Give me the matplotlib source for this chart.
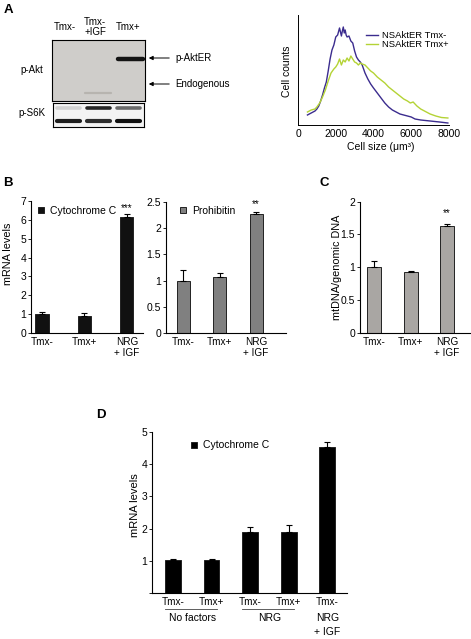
import matplotlib.pyplot as plt
from matplotlib import transforms

plt.rcParams['font.family'] = ['Liberation Sans', 'DejaVu Sans']

W, H = 471, 639

# --- A: blot, grey level of each band per lane (None = no band)
lane_names = ['Tmx-', 'Tmx-\n+IGF', 'Tmx+']
akt_er = [None, None, '#141414']
akt_endo = [None, '#b7b4af', None]
s6k_top = ['#d2d2d2', '#262626', '#6a6a6a']
s6k_bottom = ['#1e1e1e', '#2e2e2e', '#111111']

# --- A: cell size distribution
blue_x = [500, 700, 900, 1000, 1100, 1200, 1300, 1400, 1500, 1600,
          1700, 1800, 1900, 2000, 2100, 2200, 2250, 2300, 2350, 2400,
          2450, 2500, 2550, 2600, 2700, 2800, 2900, 3000, 3100, 3200,
          3300, 3400, 3550, 3700, 3850, 4000, 4200, 4400, 4600, 4800,
          5000, 5200, 5400, 5600, 5800, 6000, 6200, 6500, 7000, 7500, 7940]
blue_y = [10, 12, 14, 16, 19, 24, 30, 37, 43, 54,
          66, 75, 80, 88, 90, 97, 93, 89, 94, 98,
          92, 95, 90, 88, 89, 84, 82, 74, 68, 65,
          63, 60, 52, 46, 41, 37, 32, 27, 22, 18,
          15, 13, 11, 10, 9, 8, 6, 5, 4, 3, 2]
green_x = [500, 700, 900, 1000, 1150, 1300, 1450, 1600, 1750, 1900,
           2000, 2100, 2200, 2300, 2400, 2500, 2600, 2700, 2800, 2900,
           3000, 3100, 3200, 3300, 3400, 3550, 3700, 3850, 4000, 4200,
           4400, 4600, 4800, 5000, 5200, 5400, 5600, 5800, 5950, 6100,
           6300, 6500, 6800, 7000, 7300, 7600, 7940]
green_y = [13, 15, 16, 18, 22, 28, 35, 44, 52, 56,
           58, 61, 66, 60, 65, 63, 67, 64, 69, 66,
           63, 62, 60, 62, 61, 60, 57, 54, 52, 48,
           45, 42, 38, 35, 32, 29, 26, 24, 22, 23,
           19, 16, 13, 11, 9, 7.5, 7]

# --- B / C
cond3 = ['Tmx-', 'Tmx+', 'NRG\n+ IGF']
cytc = [1.0, 0.88, 6.15]
cytc_err = [0.13, 0.2, 0.15]
proh = [1.0, 1.06, 2.27]
proh_err = [0.21, 0.08, 0.03]
mtdna = [1.0, 0.93, 1.62]
mtdna_err = [0.1, 0.01, 0.04]

# --- D
d_ticks = ['Tmx-', 'Tmx+', 'Tmx-', 'Tmx+', 'Tmx-']
d_vals = [1.03, 1.03, 1.89, 1.89, 4.54]
d_err = [0.04, 0.03, 0.15, 0.23, 0.14]
d_groups = [('No factors', 0, 1), ('NRG', 2, 3)]

FS = 7.5
XFS = 7.2

fig = plt.figure(figsize=(W / 100, H / 100), dpi=100)


def pax(x0, y0, x1, y1):
    # axes from pixel box (top-left origin)
    return fig.add_axes([x0 / W, 1 - y1 / H, (x1 - x0) / W, (y1 - y0) / H])


# overlay in pixel coords for labels / arrows
ov = pax(0, 0, W, H)
ov.set_xlim(0, W)
ov.set_ylim(H, 0)
ov.axis('off')
ov.set_zorder(10)


def bar_panel(box, vals, errs, labels, color, xlim, ylim, yticks, width):
    ax = pax(*box)
    x = range(len(vals))
    b = ax.bar(x, vals, width=width, color=color, edgecolor='#222222', linewidth=0.7)
    ax.errorbar(x, vals, yerr=[[0] * len(vals), errs], fmt='none', ecolor='black',
                elinewidth=0.8, capsize=2.2, capthick=0.8)
    ax.set_xlim(*xlim)
    ax.set_ylim(*ylim)
    ax.set_yticks(yticks)
    ax.set_yticklabels([('%g' % t) for t in yticks])
    ax.set_xticks(list(x))
    ax.set_xticklabels(labels, linespacing=1.15)
    for s in ['top', 'right']:
        ax.spines[s].set_visible(False)
    for s in ['left', 'bottom']:
        ax.spines[s].set_linewidth(0.8)
    ax.tick_params(axis='y', length=2, width=0.6, pad=1.5, labelsize=FS)
    ax.tick_params(axis='x', length=0, pad=3, labelsize=XFS)
    return ax, b


def square_legend(ax, handle, text, x, y):
    ax.legend([handle], [text], loc='center left', bbox_to_anchor=(x / W, 1 - y / H),
              bbox_transform=fig.transFigure, frameon=False, fontsize=FS, handlelength=0.55,
              handleheight=0.55, handletextpad=0.6, borderpad=0, borderaxespad=0)


# ---------------- A: blot
blot = pax(52, 40, 145, 101)
blot.set_facecolor('#cfcdca')
blot.set_xlim(0, 3)
blot.set_ylim(61, 0)
for i in range(3):
    if akt_er[i]:
        blot.plot([i + 0.12, i + 0.92], [18.5, 18.5], color=akt_er[i], lw=3.2,
                  solid_capstyle='round')
    if akt_endo[i]:
        blot.plot([i + 0.05, i + 0.9], [53, 53], color=akt_endo[i], lw=1.6,
                  solid_capstyle='round')
blot.set_xticks([])
blot.set_yticks([])

s6k = pax(53, 103, 144, 127)
s6k.set_facecolor('#f3f3f3')
s6k.set_xlim(0, 3)
s6k.set_ylim(24, 0)
for i in range(3):
    s6k.plot([i + 0.12, i + 0.88], [5, 5], color=s6k_top[i], lw=2.6, solid_capstyle='round')
    s6k.plot([i + 0.12, i + 0.88], [18, 18], color=s6k_bottom[i], lw=3.0, solid_capstyle='round')
s6k.set_xticks([])
s6k.set_yticks([])

for name, xc in zip(lane_names, [65, 95, 128]):
    ov.text(xc, 27, name, ha='center', va='center', fontsize=7, linespacing=1.1)
ov.text(32, 70, 'p-Akt', ha='center', va='center', fontsize=7)
ov.text(32, 113, 'p-S6K', ha='center', va='center', fontsize=7)
for yy, txt in [(58, 'p-AktER'), (84, 'Endogenous')]:
    ov.annotate('', xy=(146, yy), xytext=(172, yy),
                arrowprops=dict(arrowstyle='-|>', lw=0.7, color='black', mutation_scale=6))
    ov.text(175, yy, txt, ha='left', va='center', fontsize=7)

# ---------------- A: histogram
hist = pax(298, 15, 449, 125)
hist.plot(blue_x, blue_y, color='#3b2c8e', lw=1.0, label='NSAktER Tmx-')
hist.plot(green_x, green_y, color='#b4d335', lw=1.0, label='NSAktER Tmx+')
hist.set_xlim(0, 8000)
hist.set_ylim(0, 110)
hist.set_xticks([0, 2000, 4000, 6000, 8000])
hist.set_yticks([])
for s in ['top', 'right']:
    hist.spines[s].set_visible(False)
for s in ['left', 'bottom']:
    hist.spines[s].set_linewidth(0.7)
hist.tick_params(axis='x', length=0, pad=3, labelsize=FS)
hist.legend(loc='upper left', bbox_to_anchor=(366 / W, 1 - 31 / H), bbox_transform=fig.transFigure,
            frameon=False, fontsize=6.8, handlelength=1.3, handletextpad=0.4,
            labelspacing=0.05, borderpad=0, borderaxespad=0)
ov.text(287, 71, 'Cell counts', rotation=90, ha='center', va='center', fontsize=FS)
ov.text(381, 147, 'Cell size (\u03bcm\u00b3)', ha='center', va='center', fontsize=FS)

# ---------------- B
axb1, b1 = bar_panel((31, 201, 143, 333), cytc, cytc_err, cond3, '#111111',
                     (-0.26, 2.38), (0, 7), range(8), 0.31)
square_legend(axb1, b1, 'Cytochrome C', 38, 210.5)
axb1.text(2, 6.6, '***', ha='center', va='center', fontsize=7)

axb2, b2 = bar_panel((166, 202, 286, 333), proh, proh_err, cond3, '#808080',
                     (-0.47, 2.82), (0, 2.5), [0, 0.5, 1, 1.5, 2, 2.5], 0.36)
square_legend(axb2, b2, 'Prohibitin', 180, 210.5)
axb2.text(2, 2.46, '**', ha='center', va='center', fontsize=7)
ov.text(8, 254, 'mRNA levels', rotation=90, ha='center', va='center', fontsize=7.8)

# ---------------- C
axc, bc = bar_panel((360, 201.5, 470, 333), mtdna, mtdna_err, cond3, '#a9a6a3',
                    (-0.39, 2.63), (0, 2), [0, 0.5, 1, 1.5, 2], 0.385)
axc.text(2, 1.82, '**', ha='center', va='center', fontsize=7)
ov.text(337, 267, 'mtDNA/genomic DNA', rotation=90, ha='center', va='center', fontsize=7.8)

# ---------------- D
axd, bd = bar_panel((152, 432, 347, 593), d_vals, d_err, d_ticks, '#000000',
                    (-0.544, 4.51), (0, 5), range(6), 0.41)
axd.set_yticklabels(['', '1', '2', '3', '4', '5'])
square_legend(axd, bd, 'Cytochrome C', 191, 445.5)
tr = transforms.blended_transform_factory(axd.transData, ov.transData)
for name, g0, g1 in d_groups:
    ov.plot([g0 - 0.2, g1 + 0.13], [609, 609], color='#444444', lw=0.6, transform=tr, clip_on=False)
    ov.text((g0 + g1) / 2, 618, name, ha='center', va='center', fontsize=FS, transform=tr)
ov.text(4, 618, 'NRG', ha='center', va='center', fontsize=FS, transform=tr)
ov.text(4, 632, '+ IGF', ha='center', va='center', fontsize=FS, transform=tr)
ov.text(135, 505, 'mRNA levels', rotation=90, ha='center', va='center', fontsize=8)

# panel letters
for letter, (lx, ly) in zip('ABCD', [(8, 10), (8, 183), (324, 183), (101, 415)]):
    ov.text(lx, ly, letter, ha='center', va='center', fontsize=9.5, fontweight='bold')

fig.savefig('out.png', dpi=100)
